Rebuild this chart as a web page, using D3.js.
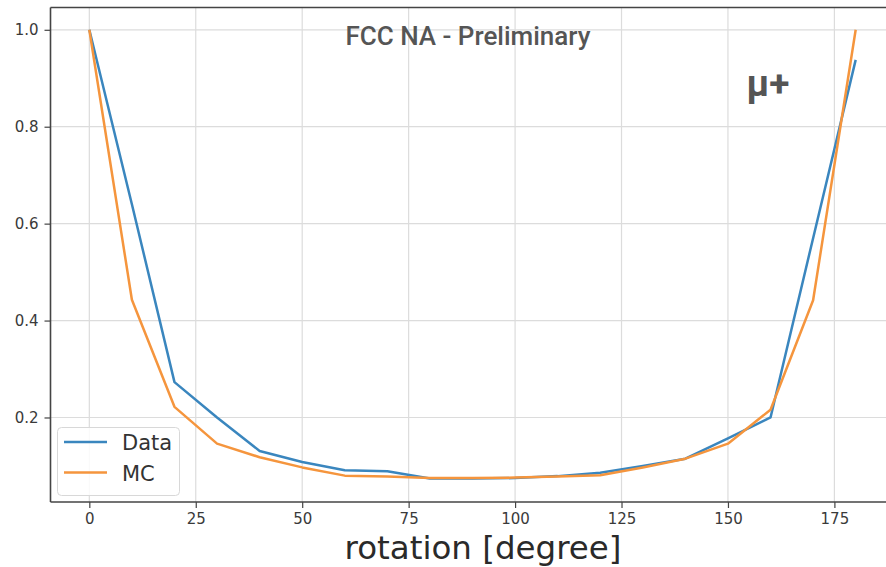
<!DOCTYPE html>
<html>
<head>
<meta charset="utf-8">
<script src="https://cdn.jsdelivr.net/npm/d3@7/dist/d3.min.js"></script>
<style>
  body { margin: 0; background: #fff; }
  svg { display: block; }
</style>
</head>
<body>
<div id="chart"></div>
<script>
// rotation angles (degree)
const angles = [0, 10, 20, 30, 40, 50, 60, 70, 80, 90, 100, 110, 120, 130, 140, 150, 160, 170, 180];
// normalised rates
const dataValues = [1.0, 0.64, 0.273, 0.20, 0.131, 0.108, 0.091, 0.089, 0.074, 0.074, 0.075, 0.079, 0.086, 0.100, 0.115, 0.157, 0.200, 0.57, 0.938];
const mcValues   = [1.0, 0.443, 0.222, 0.146, 0.118, 0.097, 0.080, 0.078, 0.075, 0.075, 0.076, 0.078, 0.081, 0.097, 0.115, 0.146, 0.216, 0.442, 1.0];
const xTicks = [0, 25, 50, 75, 100, 125, 150, 175];
const yTicks = [0.2, 0.4, 0.6, 0.8, 1.0];
const seriesNames = ['Data', 'MC'];
const colors = ['#3a86be', '#f5953d'];

const W = 886, H = 567;
const frame = { left: 50.5, top: 7.5, bottom: 502 };

const svg = d3.select('#chart').append('svg')
  .attr('width', W).attr('height', H);

const x = d3.scaleLinear().domain([-9, 189]).range([51, 894]);
const y = d3.scaleLinear().domain([0.0256, 1.046]).range([502, 7.5]);

// grid
const grid = svg.append('g');
grid.selectAll('.vg').data(xTicks).enter().append('line')
  .attr('x1', d => x(d)).attr('x2', d => x(d))
  .attr('y1', frame.top).attr('y2', frame.bottom)
  .attr('stroke', '#dcdcdc').attr('stroke-width', 1.2);
grid.selectAll('.hg').data(yTicks).enter().append('line')
  .attr('x1', frame.left).attr('x2', W)
  .attr('y1', d => y(d)).attr('y2', d => y(d))
  .attr('stroke', '#dcdcdc').attr('stroke-width', 1.2);

// lines
const line = d3.line().x(d => x(d[0])).y(d => y(d[1]));
[dataValues, mcValues].forEach((vals, i) => {
  svg.append('path')
    .datum(angles.map((a, j) => [a, vals[j]]))
    .attr('d', line)
    .attr('fill', 'none')
    .attr('stroke', colors[i])
    .attr('stroke-width', 2.5)
    .attr('stroke-linejoin', 'round');
});

// axes
const xAxis = svg.append('g')
  .attr('transform', 'translate(0,' + frame.bottom + ')')
  .call(d3.axisBottom(x).tickValues(xTicks).tickSize(6).tickPadding(5).tickFormat(d3.format('d')));
const yAxis = svg.append('g')
  .attr('transform', 'translate(' + frame.left + ',0)')
  .call(d3.axisLeft(y).tickValues(yTicks).tickSize(6).tickPadding(6).tickFormat(d3.format('.1f')));
[xAxis, yAxis].forEach(ax => {
  ax.select('.domain').remove();
  ax.selectAll('line').attr('stroke', '#444').attr('stroke-width', 1.2);
  ax.selectAll('text')
    .attr('fill', '#3a3a3a')
    .style('font-family', 'DejaVu Sans')
    .style('font-size', '15px');
});

// spines (right side is cut off in the picture)
svg.append('line').attr('x1', frame.left).attr('x2', frame.left)
  .attr('y1', frame.top).attr('y2', frame.bottom)
  .attr('stroke', '#444').attr('stroke-width', 1.6);
svg.append('line').attr('x1', frame.left).attr('x2', W)
  .attr('y1', frame.bottom).attr('y2', frame.bottom)
  .attr('stroke', '#444').attr('stroke-width', 1.6);
svg.append('line').attr('x1', frame.left).attr('x2', W)
  .attr('y1', frame.top).attr('y2', frame.top)
  .attr('stroke', '#444').attr('stroke-width', 1.6);

// annotations
svg.append('text')
  .attr('x', 468).attr('y', 45)
  .attr('text-anchor', 'middle')
  .style('font-family', 'Roboto')
  .style('font-weight', 500)
  .style('font-size', '26px')
  .attr('fill', '#555')
  .text('FCC NA - Preliminary');
svg.append('text')
  .attr('x', 768).attr('y', 96)
  .attr('text-anchor', 'middle')
  .style('font-family', 'Roboto')
  .style('font-weight', 'bold')
  .style('font-size', '37px')
  .attr('fill', '#555')
  .text('μ+');

// legend
const lg = svg.append('g');
lg.append('rect')
  .attr('x', 57.5).attr('y', 427.5).attr('width', 122).attr('height', 68)
  .attr('rx', 4)
  .attr('fill', '#fff').attr('fill-opacity', 0.85)
  .attr('stroke', '#d8d8d8');
seriesNames.forEach((name, i) => {
  const yy = 442 + i * 30.5;
  lg.append('line')
    .attr('x1', 64).attr('x2', 107).attr('y1', yy).attr('y2', yy)
    .attr('stroke', colors[i]).attr('stroke-width', 2.6);
  lg.append('text')
    .attr('x', 122).attr('y', yy + 8)
    .style('font-family', 'DejaVu Sans')
    .style('font-size', '21px')
    .attr('fill', '#333')
    .text(name);
});

// x label
svg.append('text')
  .attr('x', 483).attr('y', 559)
  .attr('text-anchor', 'middle')
  .style('font-family', 'DejaVu Sans')
  .style('font-size', '32.5px')
  .attr('fill', '#2a2a2a')
  .text('rotation [degree]');
</script>
</body>
</html>
